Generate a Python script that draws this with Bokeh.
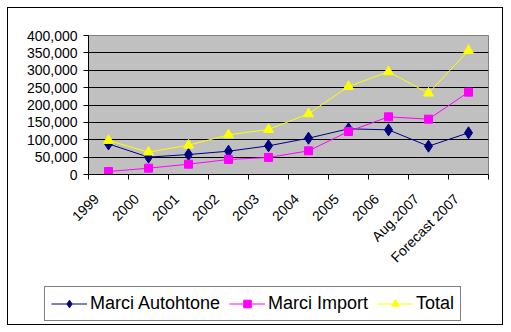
from bokeh.plotting import figure
from bokeh.layouts import column
from bokeh.models import FixedTicker, NumeralTickFormatter, Legend, LegendItem, Range1d
from bokeh.embed import file_html
from bokeh.resources import INLINE
import math

categories = ["1999", "2000", "2001", "2002", "2003", "2004", "2005", "2006", "Aug.2007", "Forecast 2007"]
autohtone = [88000, 50000, 57500, 67000, 82500, 104500, 131500, 128500, 81500, 120000]
imports = [8600, 18200, 29700, 43200, 49000, 68100, 123700, 166000, 159200, 237000]
total = [97800, 64300, 84400, 114000, 129500, 174600, 253200, 295400, 234000, 356800]
y_ticks = [0, 50000, 100000, 150000, 200000, 250000, 300000, 350000, 400000]

xs = list(range(len(categories)))
LABEL_SHIFT = 0.3  # label anchor offset (in categories) to the left of the point

FONT = "Liberation Sans"

p = figure(width=494, height=270, output_backend="svg", toolbar_location=None,
           x_range=Range1d(-0.5, len(categories) - 0.5),
           y_range=Range1d(y_ticks[0], y_ticks[-1]))
p.frame_align = False
p.min_border_left = 80
p.min_border_right = 14
p.min_border_top = 27
p.min_border_bottom = 104
p.background_fill_color = "#C0C0C0"
p.border_fill_color = "white"
p.outline_line_color = "#808080"
p.outline_line_width = 1

# y axis
p.yaxis.ticker = FixedTicker(ticks=y_ticks)
p.yaxis.formatter = NumeralTickFormatter(format="0,0")
p.yaxis.major_label_text_font = FONT
p.yaxis.major_label_text_font_size = "14px"
p.yaxis.major_label_text_color = "black"
p.yaxis.axis_line_color = "black"
p.yaxis.major_tick_line_color = "black"
p.yaxis.major_tick_out = 5
p.yaxis.major_tick_in = 0
p.yaxis.minor_tick_line_color = None
p.yaxis.major_label_standoff = 6

# x axis: labels near category centres, tick marks at category boundaries
label_pos = [x - LABEL_SHIFT for x in xs]
p.xaxis.ticker = FixedTicker(ticks=label_pos, minor_ticks=[i - 0.5 for i in range(len(categories) + 1)])
p.xaxis.major_label_overrides = {lp: c for lp, c in zip(label_pos, categories)}
p.xaxis.major_label_orientation = math.pi / 4
p.xaxis.major_label_text_font = FONT
p.xaxis.major_label_text_font_size = "14px"
p.xaxis.major_label_text_color = "black"
p.xaxis.axis_line_color = "black"
p.xaxis.major_tick_line_color = None
p.xaxis.minor_tick_line_color = "black"
p.xaxis.minor_tick_out = 5
p.xaxis.minor_tick_in = 0
p.xaxis.major_label_standoff = 16

p.xgrid.grid_line_color = None
p.ygrid.ticker = FixedTicker(ticks=y_ticks[1:-1])
p.ygrid.grid_line_color = "black"
p.ygrid.grid_line_width = 1

series = [
    ("Marci Autohtone", autohtone, "#000080", "diamond", 12),
    ("Marci Import", imports, "#FF00FF", "square", 8),
    ("Total", total, "#FFFF00", "triangle", 10),
]

for name, vals, col, mk, sz in series:
    p.line(xs, vals, line_color=col, line_width=1)
    p.scatter(xs, vals, marker=mk, size=sz, fill_color=col, line_color=col)

# legend panel (its own small figure; the series are out of its visible range)
q = figure(width=494, height=46, output_backend="svg", toolbar_location=None,
           x_range=Range1d(-1, 0), y_range=Range1d(-1, 0))
q.frame_align = False
q.min_border = 0
q.min_border_left = 0
q.min_border_right = 0
q.min_border_top = 0
q.min_border_bottom = 0
q.axis.visible = False
q.grid.visible = False
q.outline_line_color = None
q.background_fill_color = "white"
q.border_fill_color = "white"

items = []
for name, vals, col, mk, sz in series:
    ln = q.line(xs, vals, line_color=col, line_width=1)
    sc = q.scatter(xs, vals, marker=mk, size=sz - 2, fill_color=col, line_color=col)
    items.append(LegendItem(label=name, renderers=[ln, sc]))

legend = Legend(items=items, orientation="horizontal", location=(36, 3))
legend.label_text_font = FONT
legend.label_text_font_size = "18px"
legend.label_text_color = "black"
legend.border_line_color = "black"
legend.border_line_width = 1
legend.background_fill_color = "white"
legend.background_fill_alpha = 1
legend.glyph_width = 36
legend.glyph_height = 19
legend.label_height = 19
legend.label_standoff = 3
legend.spacing = 9
legend.padding = 6
legend.margin = 0
q.add_layout(legend, "center")

layout = column(p, q, spacing=0, margin=(7, 0, 0, 7), styles={"border": "1px solid black"})

open("out.html", "w").write(file_html(layout, INLINE))
